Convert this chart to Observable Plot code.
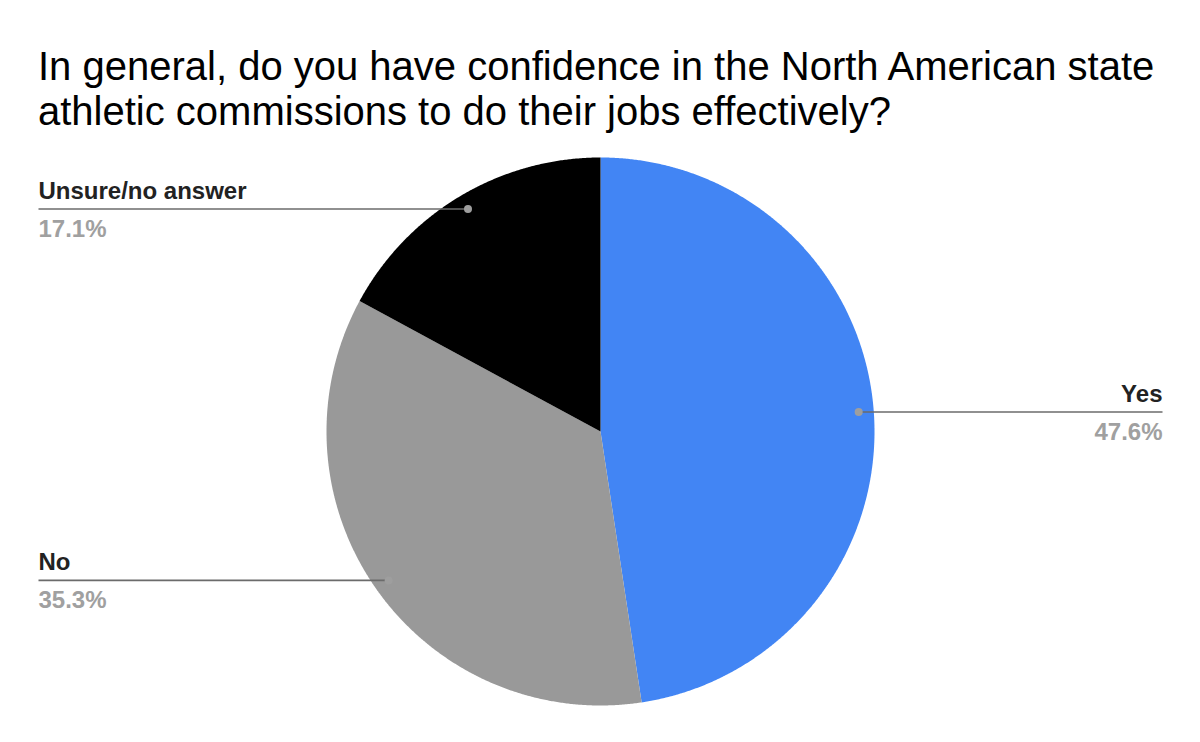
<!DOCTYPE html>
<html>
<head>
<meta charset="utf-8">
<script src="https://cdn.jsdelivr.net/npm/d3@7"></script>
<script src="https://cdn.jsdelivr.net/npm/@observablehq/plot@0.6"></script>
<style>
  html, body { margin: 0; padding: 0; background: #fff; }
  body { width: 1200px; height: 742px; overflow: hidden; font-family: "Liberation Sans", Arial, sans-serif; }
  #title { height: 140px; box-sizing: border-box; padding: 44px 0 0 38px; font-size: 40px; line-height: 45px; color: #000; }
</style>
</head>
<body>
<div id="title">In general, do you have confidence in the North American state<br>athletic commissions to do their jobs effectively?</div>
<div id="chart"></div>
<script>
// Data
const categories = ["Yes", "No", "Unsure/no answer"];
const values = [47.6, 35.3, 17.1];
const percentLabels = ["47.6%", "35.3%", "17.1%"];
const colors = ["#4285f4", "#999999", "#000000"];

// Layout
const W = 1200, H = 602;
const xExtent = 2.0511; // data units from centre to label edges
const dotR = 0.945;

const pie = d3.pie().sort(null).value(d => d.value)(
  categories.map((name, i) => ({name, value: values[i], label: percentLabels[i]}))
);

// Build slice outlines from pie angles (angle measured clockwise from top)
const slicePts = [];
for (const p of pie) {
  const name = p.data.name;
  slicePts.push({name, x: 0, y: 0});
  const n = Math.max(2, Math.ceil((p.endAngle - p.startAngle) / 0.005));
  for (let k = 0; k <= n; k++) {
    const a = p.startAngle + (p.endAngle - p.startAngle) * k / n;
    slicePts.push({name, x: Math.sin(a), y: Math.cos(a)});
  }
}

const labels = pie.map(p => {
  const a = (p.startAngle + p.endAngle) / 2;
  const x = dotR * Math.sin(a), y = dotR * Math.cos(a);
  const right = x > 0;
  return {name: p.data.name, label: p.data.label, x, y, right, edge: right ? xExtent : -xExtent};
});
const rightLabels = labels.filter(d => d.right);
const leftLabels = labels.filter(d => !d.right);

const nameStyle = {x: "edge", y: "y", text: "name", dy: -10, fontSize: 24, fontWeight: "bold", fill: "#222", lineAnchor: "bottom"};
const pctStyle = {x: "edge", y: "y", text: "label", dy: 20, fontSize: 24, fontWeight: "bold", fill: "#a0a0a0"};

const plot = Plot.plot({
  width: W,
  height: H,
  marginLeft: 38,
  marginRight: 38,
  marginTop: 17,
  marginBottom: 37,
  x: {domain: [-xExtent, xExtent], axis: null},
  y: {domain: [-1, 1], axis: null},
  color: {domain: categories, range: colors},
  style: {fontFamily: "'Liberation Sans', Arial, sans-serif", background: "white", overflow: "visible"},
  marks: [
    Plot.line(slicePts, {x: "x", y: "y", z: "name", fill: "name", stroke: null, curve: "linear-closed"}),
    Plot.link(labels, {x1: "x", y1: "y", x2: "edge", y2: "y", stroke: "#6b6b6b", strokeWidth: 1.6}),
    Plot.dot(labels, {x: "x", y: "y", r: 4, fill: "#9e9e9e", stroke: null}),
    Plot.text(rightLabels, {...nameStyle, textAnchor: "end"}),
    Plot.text(leftLabels, {...nameStyle, textAnchor: "start"}),
    Plot.text(rightLabels, {...pctStyle, textAnchor: "end"}),
    Plot.text(leftLabels, {...pctStyle, textAnchor: "start"})
  ]
});
document.getElementById("chart").appendChild(plot);
</script>
</body>
</html>
